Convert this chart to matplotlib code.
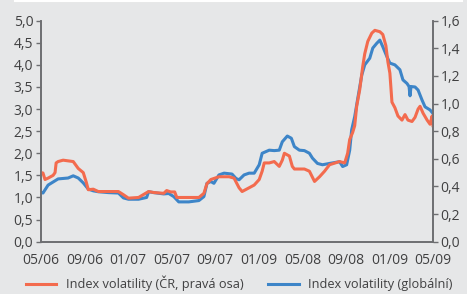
import matplotlib
matplotlib.use('Agg')
import matplotlib.pyplot as plt
from matplotlib.lines import Line2D
from matplotlib.ticker import FuncFormatter

# months since 05/2006
glob_x = [0, 0.18, 0.65, 1.11, 1.57, 2.49, 2.96, 3.42, 3.88, 4.34, 4.8, 5.26, 6.19, 7.11, 7.57, 8.03,
          8.96, 9.7, 9.88, 10.34, 11.27, 11.73, 12.19, 12.65, 13.57, 14.5, 14.96, 15.24, 15.6, 15.88,
          16.34, 16.81, 17.54, 17.91, 18.19, 18.65, 19.11, 19.58, 20.04, 20.31, 20.96, 21.42, 21.88,
          22.16, 22.62, 22.99, 23.27, 23.73, 24.19, 24.65, 24.93, 25.39, 25.85, 26.5, 27.42, 27.7,
          28.07, 28.35, 28.53, 28.81, 29.09, 29.46, 29.73, 30.19, 30.47, 30.84, 31.12, 31.39, 31.76,
          32.04, 32.5, 32.96, 33.24, 33.61, 33.8, 33.89, 33.98, 34.35, 34.63, 35.0, 35.27, 35.73, 36]
glob_y = [1.12, 1.10, 1.28, 1.35, 1.42, 1.44, 1.49, 1.44, 1.33, 1.19, 1.15, 1.13, 1.11, 1.10, 0.99, 0.96,
          0.96, 1.0, 1.13, 1.11, 1.08, 1.09, 1.02, 0.90, 0.90, 0.93, 1.02, 1.32, 1.36, 1.32,
          1.51, 1.55, 1.53, 1.43, 1.40, 1.51, 1.55, 1.55, 1.74, 2.0, 2.07, 2.06, 2.07,
          2.26, 2.39, 2.34, 2.15, 2.07, 2.06, 2.0, 1.89, 1.77, 1.74, 1.77, 1.81, 1.70,
          1.74, 2.07, 2.53, 2.83, 3.24, 3.77, 4.0, 4.15, 4.38, 4.49, 4.56, 4.41, 4.19,
          4.04, 4.0, 3.89, 3.66, 3.58, 3.51, 3.30, 3.51, 3.50, 3.43, 3.2, 3.05, 2.98, 2.9]

cz_x = [0, 0.18, 0.37, 0.65, 1.11, 1.29, 1.39, 1.57, 2.03, 2.96, 3.42, 3.88, 4.16, 4.34, 4.8, 5.26,
        6.19, 7.11, 7.57, 8.03, 8.96, 9.88, 10.34, 11.27, 11.54, 11.91, 12.28, 12.47, 13.57, 14.5,
        14.96, 15.24, 15.6, 16.34, 17.27, 17.73, 18.19, 18.47, 19.11, 19.58, 20.04, 20.31, 20.5,
        20.96, 21.42, 21.88, 22.16, 22.35, 22.81, 23.08, 23.27, 24.19, 24.65, 25.12, 25.58, 26.04,
        26.5, 27.42, 27.89, 28.16, 28.35, 28.62, 28.81, 28.99, 29.27, 29.55, 29.73, 30.01, 30.38,
        30.66, 31.12, 31.39, 31.67, 31.86, 32.04, 32.23, 32.5, 32.78, 33.15, 33.43, 33.7, 34.07,
        34.35, 34.63, 34.81, 35.09, 35.46, 35.73, 35.92, 36]
cz_y = [0.50, 0.497, 0.45, 0.46, 0.48, 0.50, 0.57, 0.58, 0.59, 0.58, 0.53, 0.50, 0.43, 0.376, 0.38, 0.363,
        0.363, 0.363, 0.34, 0.315, 0.32, 0.363, 0.356, 0.35, 0.37, 0.36, 0.36, 0.32, 0.32, 0.32,
        0.35, 0.42, 0.45, 0.47, 0.47, 0.46, 0.39, 0.363, 0.39, 0.41, 0.45, 0.51, 0.57,
        0.57, 0.58, 0.545, 0.59, 0.64, 0.62, 0.545, 0.526, 0.526, 0.51, 0.436, 0.47, 0.51,
        0.557, 0.58, 0.57, 0.64, 0.74, 0.79, 0.84, 0.98, 1.10, 1.27, 1.36, 1.45, 1.51,
        1.53, 1.52, 1.50, 1.42, 1.30, 1.22, 1.01, 0.97, 0.91, 0.88, 0.92, 0.88, 0.87,
        0.90, 0.96, 0.98, 0.93, 0.88, 0.85, 0.91, 0.84]

tick_pos = [0, 4, 8, 12, 16, 20, 24, 28, 32, 36]
tick_labels = ['05/06', '09/06', '01/07', '05/07', '09/07', '01/09', '05/08', '09/08', '01/09', '05/09']

bg = '#e6e7e8'
orange = '#f36b4e'
blue = '#3d85c8'
grey = '#6d6e71'
txt = '#404041'

plt.rcParams['font.family'] = ['Open Sans', 'DejaVu Sans']
plt.rcParams['font.size'] = 10

fig = plt.figure(figsize=(4.67, 2.94), dpi=100, facecolor=bg)
ax1 = fig.add_axes([0.0878, 0.178, 0.8394, 0.7517], facecolor=bg)
ax2 = ax1.twinx()

ax1.plot(glob_x, glob_y, color=blue, lw=2.2, solid_joinstyle='round')
ax2.plot(cz_x, cz_y, color=orange, lw=2.2, solid_joinstyle='round')

ax1.set_xlim(0, 36)
ax1.set_ylim(0, 5)
ax2.set_ylim(0, 1.6)
ax1.set_yticks([i * 0.5 for i in range(11)])
ax2.set_yticks([i * 0.2 for i in range(9)])
fmt = FuncFormatter(lambda v, p: f'{v:.1f}'.replace('.', ','))
ax1.yaxis.set_major_formatter(fmt)
ax2.yaxis.set_major_formatter(fmt)
ax1.set_xticks(tick_pos)
ax1.set_xticklabels(tick_labels)

for ax in (ax1, ax2):
    ax.spines['top'].set_visible(False)
    for s in ('left', 'right', 'bottom'):
        ax.spines[s].set_color(grey)
        ax.spines[s].set_linewidth(1.2)
    ax.tick_params(axis='y', colors=grey, labelcolor=txt, length=3.5, width=1, pad=2, labelsize=10)
ax1.tick_params(axis='x', length=0, pad=8, labelcolor=txt, labelsize=10)

handles = [Line2D([], [], color=orange, lw=2.2), Line2D([], [], color=blue, lw=2.2)]
fig.legend(handles, ['Index volatility (ČR, pravá osa)', 'Index volatility (globální)'],
           ncol=2, frameon=False, loc='center left', bbox_to_anchor=(0.055, 0.035),
           handlelength=2.4, handletextpad=0.75, columnspacing=1.9, labelcolor=txt, fontsize=9.2,
           borderaxespad=0, borderpad=0)

fig.add_artist(Line2D([15 / 467, 462 / 467], [0.995, 0.995], color='white', lw=1.5))

fig.savefig('out.png', dpi=100, facecolor=bg)
